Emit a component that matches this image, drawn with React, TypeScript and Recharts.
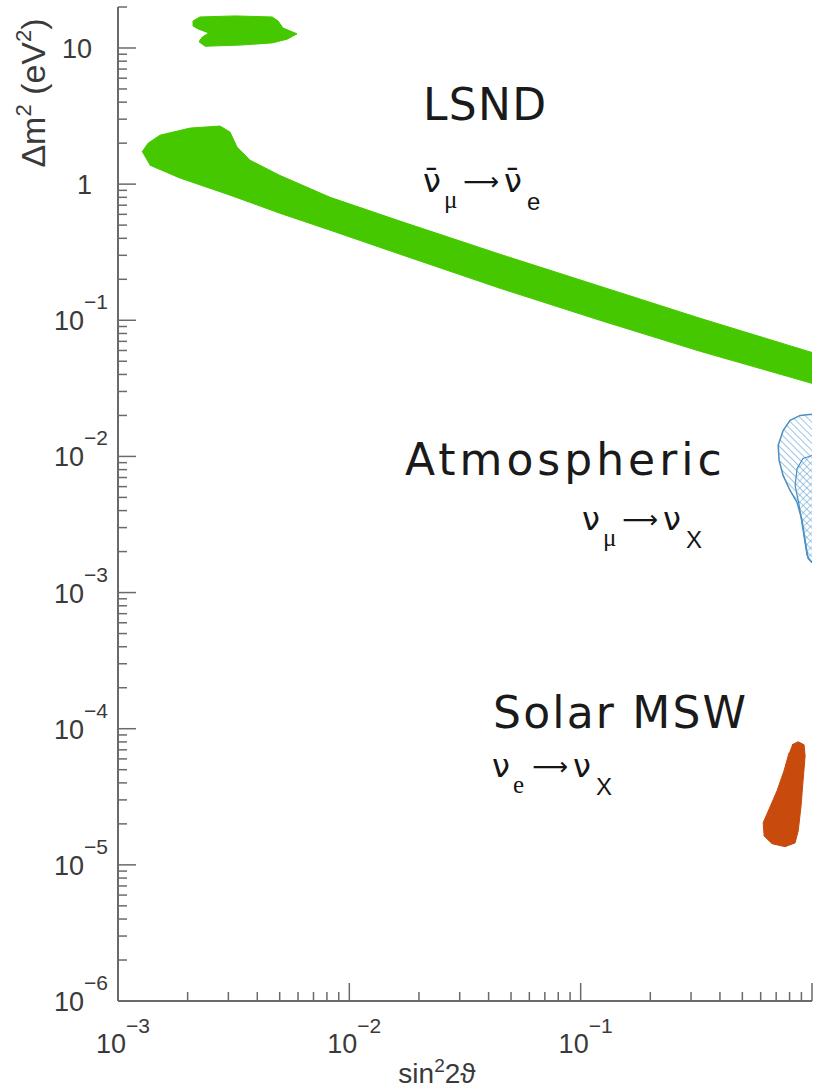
import React from 'react';
import { ScatterChart, Scatter, XAxis, YAxis } from 'recharts';

// allowed regions, [sin^2 2theta, dm^2 (eV^2)], outline order
const lsndBand: [number, number][] = [
  [1.27e-3, 1.72], [1.35e-3, 2.0], [1.52e-3, 2.29], [2.05e-3, 2.58], [2.76e-3, 2.67],
  [3.05e-3, 2.41], [3.27e-3, 1.87], [3.72e-3, 1.5], [5.0e-3, 1.16], [8.26e-3, 0.8],
  [0.01656, 0.535], [0.0448, 0.3055], [0.121, 0.178], [0.328, 0.1035], [1.0, 0.058],
  [1.0, 0.0344], [0.328, 0.0592], [0.121, 0.1], [0.0448, 0.1718], [0.01656, 0.3055],
  [8.26e-3, 0.459], [5.0e-3, 0.612], [3.05e-3, 0.83], [1.85e-3, 1.11], [1.37e-3, 1.38],
];

const lsndIsland: [number, number][] = [
  [2.11e-3, 15.8], [2.26e-3, 16.9], [3.21e-3, 17.2], [4.64e-3, 16.9], [4.92e-3, 15.8],
  [5.17e-3, 14.0], [5.94e-3, 12.7], [5.38e-3, 11.6], [4.64e-3, 10.9], [3.37e-3, 10.5],
  [2.38e-3, 10.3], [2.24e-3, 11.1], [2.31e-3, 12.0], [2.47e-3, 12.9], [2.22e-3, 13.8],
  [2.11e-3, 14.5],
];

const atmosOuter: [number, number][] = [
  [1.0, 0.0204], [0.889, 0.02], [0.804, 0.0184], [0.75, 0.0155], [0.714, 0.01205],
  [0.721, 0.00935], [0.75, 0.00725], [0.804, 0.00562], [0.862, 0.00459], [0.906, 0.00338],
  [0.934, 0.00241], [0.962, 0.00178], [1.0, 0.00166],
];

const atmosInner: [number, number][] = [
  [1.0, 0.01016], [0.915, 0.00966], [0.862, 0.00816], [0.845, 0.00612], [0.88, 0.00437],
  [0.915, 0.00286], [0.952, 0.00187], [1.0, 0.00166],
];

const solarMsw: [number, number][] = [
  [0.82, 7.62e-5], [0.872, 8.02e-5], [0.924, 7.62e-5], [0.934, 6.33e-5], [0.915, 4.15e-5],
  [0.897, 2.72e-5], [0.872, 1.78e-5], [0.845, 1.45e-5], [0.765, 1.36e-5], [0.672, 1.43e-5],
  [0.621, 1.63e-5], [0.615, 2.04e-5], [0.659, 2.67e-5], [0.706, 3.5e-5], [0.757, 4.91e-5],
  [0.796, 6.67e-5],
];

// log axes: decades and the minor steps inside each
const xDecades = [1e-3, 1e-2, 1e-1];
const yDecades = [1e-6, 1e-5, 1e-4, 1e-3, 1e-2, 1e-1, 1, 10];
const steps = [1, 2, 3, 4, 5, 6, 7, 8, 9];
const xTicks = [...xDecades.flatMap((d) => steps.map((s) => s * d)), 1];
const yTicks = yDecades.flatMap((d) => steps.map((s) => s * d)).filter((v) => v <= 20.0001);

const AXIS = '#6a6a6a';
const LABEL = '#3a3a3a';
const GREEN = '#46c800';
const ORANGE = '#c84a0c';
const BLUE = '#4a8fc4';
const SANS = "'Liberation Sans', Arial, sans-serif";
const SERIF = "'Liberation Serif', 'DejaVu Serif', serif";
const TITLE = "'DejaVu Sans', sans-serif";

const toPts = (arr: [number, number][]) => arr.map(([x, y]) => ({ x, y }));
const isMajor = (v: number) => Math.abs(Math.log10(v) - Math.round(Math.log10(v))) < 1e-6;
const expOf = (v: number) => Math.round(Math.log10(v));
const noDot = () => <g />;

const BottomTick = (p: any) => {
  const { x, y, payload } = p;
  const major = isMajor(payload.value);
  const e = expOf(payload.value);
  return (
    <g>
      <line x1={x} y1={y} x2={x} y2={y - (major ? 18 : 9)} stroke={AXIS} strokeWidth={1.5} />
      {major && e < 0 && (
        <text fill={LABEL} fontFamily={SANS}>
          <tspan x={x + 8} y={y + 52} fontSize={27} textAnchor="end">10</tspan>
          <tspan x={x + 8} y={y + 32} fontSize={21}>{`\u2212${-e}`}</tspan>
        </text>
      )}
    </g>
  );
};

const TopTick = (p: any) => {
  const { x, y, payload } = p;
  const major = isMajor(payload.value);
  return <line x1={x} y1={y} x2={x} y2={y + (major ? 18 : 9)} stroke={AXIS} strokeWidth={1.5} />;
};

const LeftTick = (p: any) => {
  const { x, y, payload } = p;
  const v = payload.value;
  const major = isMajor(v);
  const e = expOf(v);
  return (
    <g>
      <line x1={x} y1={y} x2={x + (major ? 18 : 9)} y2={y} stroke={AXIS} strokeWidth={1.5} />
      {major && e >= 0 && (
        <text x={x - 26} y={y + 10} fontSize={27} textAnchor="end" fill={LABEL} fontFamily={SANS}>
          {e === 1 ? '10' : '1'}
        </text>
      )}
      {major && e < 0 && (
        <text fill={LABEL} fontFamily={SANS}>
          <tspan x={x - 34} y={y + 10} fontSize={27} textAnchor="end">10</tspan>
          <tspan x={x - 34} y={y - 11} fontSize={21}>{`\u2212${-e}`}</tspan>
        </text>
      )}
    </g>
  );
};

const RightTick = (p: any) => {
  const { x, y, payload } = p;
  const major = isMajor(payload.value);
  return <line x1={x} y1={y} x2={x - (major ? 18 : 9)} y2={y} stroke={AXIS} strokeWidth={1.5} />;
};

// ν_a → ν_b, optionally barred (combining macron), as one text element
const Formula = ({ x, y, a, b, bar }: { x: number; y: number; a: string; b: string; bar?: boolean }) => {
  const nu = bar ? 'ν\u0304' : 'ν';
  return (
    <text fill="#151515" fontFamily={TITLE} fontSize={32}>
      <tspan x={x} y={y}>{nu}</tspan>
      <tspan x={x + 21} y={y + 16} fontSize={25} fontFamily={SERIF}>{a}</tspan>
      <tspan x={x + 40} y={y - 2} fontSize={25}>⟶</tspan>
      <tspan x={x + 81} y={y}>{nu}</tspan>
      <tspan x={x + 104} y={y + 18} fontSize={24} fontFamily={SANS}>{b}</tspan>
    </text>
  );
};

const App = () => {
  return (
    <div style={{ position: 'absolute', left: 0, top: 0, width: 813, height: 1092, background: '#fff' }}>
      <svg width={0} height={0} style={{ position: 'absolute' }}>
        <defs>
          <pattern id="hatchA" patternUnits="userSpaceOnUse" width={5} height={5} patternTransform="rotate(-45)">
            <line x1={0} y1={0} x2={0} y2={5} stroke="#5c9fd0" strokeWidth={1.2} />
          </pattern>
          <pattern id="hatchB" patternUnits="userSpaceOnUse" width={5} height={5} patternTransform="rotate(45)">
            <line x1={0} y1={0} x2={0} y2={5} stroke="#5c9fd0" strokeWidth={1} />
          </pattern>
        </defs>
      </svg>
      <ScatterChart width={813} height={1092} margin={{ top: 7, right: 1, bottom: 0, left: 0 }}>
        <XAxis
          xAxisId="b" type="number" dataKey="x" scale="log" domain={[1e-3, 1]} allowDataOverflow
          ticks={xTicks} interval={0} height={91} tickSize={0} tickMargin={0} tickLine={false}
          axisLine={{ stroke: AXIS, strokeWidth: 2 }} tick={BottomTick}
        />
        <XAxis
          xAxisId="t" orientation="top" type="number" dataKey="x" scale="log" domain={[1e-3, 1]} allowDataOverflow
          ticks={xTicks} interval={0} height={0} tickSize={0} tickMargin={0} tickLine={false}
          axisLine={{ stroke: AXIS, strokeWidth: 2 }} tick={TopTick}
        />
        <YAxis
          yAxisId="l" type="number" dataKey="y" scale="log" domain={[1e-6, 20]} allowDataOverflow
          ticks={yTicks} interval={0} width={118} tickSize={0} tickMargin={0} tickLine={false}
          axisLine={{ stroke: AXIS, strokeWidth: 2 }} tick={LeftTick}
        />
        <YAxis
          yAxisId="r" orientation="right" type="number" dataKey="y" scale="log" domain={[1e-6, 20]} allowDataOverflow
          ticks={yTicks} interval={0} width={0} tickSize={0} tickMargin={0} tickLine={false}
          axisLine={{ stroke: AXIS, strokeWidth: 2 }} tick={RightTick}
        />
        <Scatter
          xAxisId="b" yAxisId="l" data={toPts(lsndBand)} shape={noDot} isAnimationActive={false}
          line={{ fill: GREEN, stroke: GREEN, strokeWidth: 1 }} lineJointType="cardinalClosed"
        />
        <Scatter
          xAxisId="b" yAxisId="l" data={toPts(lsndIsland)} shape={noDot} isAnimationActive={false}
          line={{ fill: GREEN, stroke: GREEN, strokeWidth: 1 }} lineJointType="linearClosed"
        />
        <Scatter
          xAxisId="b" yAxisId="l" data={toPts(atmosOuter)} shape={noDot} isAnimationActive={false}
          line={{ fill: 'url(#hatchA)', stroke: BLUE, strokeWidth: 1.5 }} lineJointType="cardinalClosed"
        />
        <Scatter
          xAxisId="b" yAxisId="l" data={toPts(atmosInner)} shape={noDot} isAnimationActive={false}
          line={{ fill: 'url(#hatchB)', stroke: BLUE, strokeWidth: 1.2 }} lineJointType="cardinalClosed"
        />
        <Scatter
          xAxisId="b" yAxisId="l" data={toPts(solarMsw)} shape={noDot} isAnimationActive={false}
          line={{ fill: ORANGE, stroke: ORANGE, strokeWidth: 1 }} lineJointType="cardinalClosed"
        />
      </ScatterChart>
      <svg width={813} height={1092} style={{ position: 'absolute', left: 0, top: 0, pointerEvents: 'none' }}>
        <g fill={LABEL} fontFamily={SANS}>
          <text transform="translate(45,93) rotate(-90)" textAnchor="middle" fontSize={34}>
            Δm<tspan fontSize={22} dy={-14}>2</tspan>
            <tspan dy={14}> (eV</tspan>
            <tspan fontSize={22} dy={-14}>2</tspan>
            <tspan dy={14}>)</tspan>
          </text>
          <text x={437} y={1083} textAnchor="middle" fontSize={28}>
            sin<tspan fontSize={19} dy={-11}>2</tspan>
            <tspan dy={11}>2ϑ</tspan>
          </text>
        </g>
        <g fill="#1a1a1a" fontFamily={TITLE} fontSize={44}>
          <text x={423} y={120} letterSpacing={1.3}>LSND</text>
          <text x={405} y={475} letterSpacing={4}>Atmospheric</text>
          <text x={493} y={728} letterSpacing={2.2}>Solar MSW</text>
        </g>
        <Formula x={423} y={192} a="μ" b="e" bar />
        <Formula x={582} y={530} a="μ" b="X" />
        <Formula x={492} y={777} a="e" b="X" />
      </svg>
    </div>
  );
};

export default App;
